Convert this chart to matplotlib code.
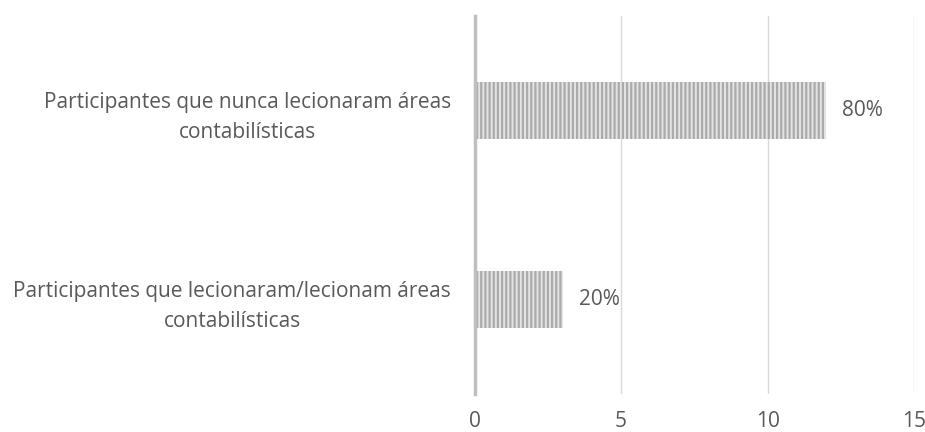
import matplotlib.pyplot as plt

categories = [
    "Participantes que lecionaram/lecionam áreas\ncontabilísticas",
    "Participantes que nunca lecionaram áreas\ncontabilísticas",
]
counts = [3, 12]
pct_labels = ["20%", "80%"]
xticks = [0, 5, 10, 15]

plt.rcParams['font.family'] = ['Open Sans', 'DejaVu Sans']
plt.rcParams['hatch.linewidth'] = 1.6
plt.rcParams['hatch.color'] = '#ababab'

fig = plt.figure(figsize=(9.25, 4.32), dpi=100)
ax = fig.add_axes([0.5132, 0.088, 0.4748, 0.875])

text_color = '#595959'
fs = 15
ypos = list(range(len(categories)))
ax.barh(ypos, counts, height=0.30, color='#e4e4e4',
        edgecolor='#ababab', linewidth=0, hatch='||||', zorder=3)

for y, v, lab in zip(ypos, counts, pct_labels):
    ax.text(v + 0.55, y, lab, va='center', ha='left', fontsize=fs, color=text_color)

ax.set_xlim(0, 15)
ax.set_ylim(-0.5, 1.5)
ax.set_xticks(xticks)
ax.set_yticks(ypos)
ax.set_yticklabels(categories, multialignment='center', linespacing=1.57)
ax.grid(axis='x', color='#d9d9d9', linewidth=1.0, zorder=0)
for s in ['top', 'right', 'bottom']:
    ax.spines[s].set_visible(False)
ax.spines['left'].set_color('#bfbfbf')
ax.spines['left'].set_linewidth(2.5)
ax.spines['left'].set_zorder(4)
ax.tick_params(axis='y', length=0, pad=17, labelsize=fs, labelcolor=text_color)
ax.tick_params(axis='x', length=0, pad=12, labelsize=fs, labelcolor=text_color)

fig.savefig('out.png', dpi=100)
